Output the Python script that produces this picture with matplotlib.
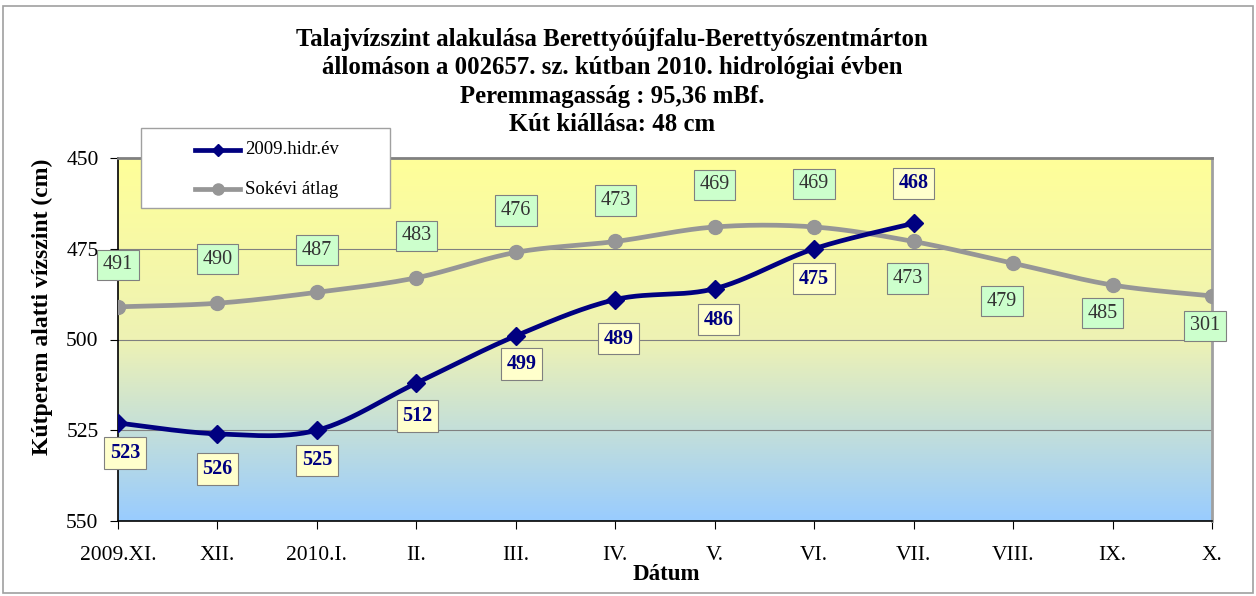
import numpy as np
import matplotlib
matplotlib.use('Agg')
from matplotlib import pyplot as plt
from matplotlib.colors import LinearSegmentedColormap
from matplotlib.patches import Rectangle

months = ['2009.XI.', 'XII.', '2010.I.', 'II.', 'III.', 'IV.', 'V.', 'VI.',
          'VII.', 'VIII.', 'IX.', 'X.']
hidr_2009 = [523, 526, 525, 512, 499, 489, 486, 475, 468]
sokevi = [491, 490, 487, 483, 476, 473, 469, 469, 473, 479, 485, 488]
sokevi_labels = ['491', '490', '487', '483', '476', '473', '469', '469',
                 '473', '479', '485', '301']

# label offsets in pixels (negative = above the point on screen)
hidr_dy = [30, 35, 30, 33, 28, 39, 31, 30, -40]
hidr_dx = [7, 0, 0, 1, 6, 3, 4, 0, 0]
sok_dy = [-42, -44, -42, -42, -42, -41, -42, -43, 37, 38, 28, 30]
sok_dx = [0, 0, 0, 0, 0, 0, 0, 0, -6, -11, -10, -7]

plt.rcParams['font.family'] = ['Liberation Serif', 'DejaVu Serif']


def smooth(y, n=30):
    # bezier smoothing like Excel's smoothed line
    y = np.asarray(y, dtype=float)
    x = np.arange(len(y), dtype=float)
    xs, ys = [], []
    for i in range(len(y) - 1):
        p0 = y[max(i - 1, 0)]
        p1 = y[i]
        p2 = y[i + 1]
        p3 = y[min(i + 2, len(y) - 1)]
        x0 = x[max(i - 1, 0)]
        x3 = x[min(i + 2, len(y) - 1)]
        t = np.linspace(0, 1, n)
        c1y = p1 + (p2 - p0) / 6
        c2y = p2 - (p3 - p1) / 6
        c1x = x[i] + (x[i + 1] - x0) / 6
        c2x = x[i + 1] - (x3 - x[i]) / 6
        bx = (1 - t)**3 * x[i] + 3 * (1 - t)**2 * t * c1x + 3 * (1 - t) * t**2 * c2x + t**3 * x[i + 1]
        by = (1 - t)**3 * p1 + 3 * (1 - t)**2 * t * c1y + 3 * (1 - t) * t**2 * c2y + t**3 * p2
        xs.extend(bx)
        ys.extend(by)
    return np.array(xs), np.array(ys)


W, H = 1256, 596
fig = plt.figure(figsize=(W / 100, H / 100), dpi=100)
fig.patches.append(Rectangle((3 / W, 3 / H), 1250 / W, 587 / H,
                             transform=fig.transFigure, fill=False,
                             edgecolor='#a0a0a0', linewidth=1.2))
ax = fig.add_axes([118 / W, 1 - 521 / H, (1212 - 118) / W, (521 - 158) / H])

# background gradient
cmap = LinearSegmentedColormap.from_list('bg', ['#ffff99', '#eef2b4', '#99ccff'])
grad = np.linspace(0, 1, 256).reshape(-1, 1)
ax.imshow(grad, cmap=cmap, aspect='auto', extent=[0, 11, 550, 450],
          origin='upper', zorder=0)

ax.set_xlim(0, 11)
ax.set_ylim(550, 450)
ax.set_yticks([450, 475, 500, 525, 550])
ax.set_xticks(range(len(months)))
ax.set_xticklabels(months)
for v in [475, 500, 525]:
    ax.axhline(v, color='#808080', linewidth=0.8, zorder=1)

x1 = np.arange(len(hidr_2009))
x2 = np.arange(len(sokevi))
sx, sy = smooth(sokevi)
ax.plot(sx, sy, color='#969696', linewidth=3.4, zorder=3)
ax.plot(x2, sokevi, 'o', color='#969696', markersize=10, zorder=3)
hx, hy = smooth(hidr_2009)
ax.plot(hx, hy, color='#000080', linewidth=3.4, zorder=4)
ax.plot(x1, hidr_2009, 'D', color='#000080', markersize=9, zorder=4)

for i, v in enumerate(sokevi):
    ax.annotate(sokevi_labels[i], (x2[i], v), xytext=(sok_dx[i] * 0.72, -sok_dy[i] * 0.72),
                textcoords='offset points', ha='center', va='center',
                fontsize=14.5, color='#333333', zorder=6,
                bbox=dict(boxstyle='square,pad=0.28', fc='#ccffcc', ec='#808080', lw=0.8))
for i, v in enumerate(hidr_2009):
    ax.annotate(str(v), (x1[i], v), xytext=(hidr_dx[i] * 0.72, -hidr_dy[i] * 0.72),
                textcoords='offset points', ha='center', va='center',
                fontsize=14.5, color='#000080', fontweight='bold', zorder=6,
                bbox=dict(boxstyle='square,pad=0.28', fc='#ffffcc', ec='#808080', lw=0.8))

for s in ['left', 'bottom']:
    ax.spines[s].set_color('black')
    ax.spines[s].set_linewidth(1.2)
ax.spines['top'].set_color('#808080')
ax.spines['top'].set_linewidth(2)
ax.spines['right'].set_color('#a0a0a0')
ax.spines['right'].set_linewidth(2)
ax.tick_params(axis='both', direction='out', length=6, labelsize=15.5, colors='black')
ax.tick_params(axis='x', pad=12)
ax.tick_params(axis='y', pad=8)

ax.set_ylabel('Kútperem alatti vízszint (cm)', fontsize=17, fontweight='bold')
ax.yaxis.set_label_coords((42 - 118) / (1212 - 118), (521 - 307) / (521 - 158))
ax.set_xlabel('Dátum', fontsize=16.5, fontweight='bold')
ax.xaxis.set_label_coords((666 - 118) / (1212 - 118), -(575 - 521) / (521 - 158))
ax.xaxis.label.set_va('center')
ax.yaxis.label.set_va('center')

title = ('Talajvízszint alakulása Berettyóújfalu-Berettyószentmárton\n'
         'állomáson a 002657. sz. kútban 2010. hidrológiai évben\n'
         'Peremmagasság : 95,36 mBf.\n'
         'Kút kiállása: 48 cm')
fig.text(612 / W, 1 - 82 / H, title, ha='center', va='center', fontsize=17.8,
         fontweight='bold', linespacing=1.3)

# legend drawn by hand
fig.patches.append(Rectangle((141 / W, 1 - 208 / H), 249 / W, 80 / H,
                             transform=fig.transFigure, facecolor='white',
                             edgecolor='#a0a0a0', linewidth=1.0, zorder=5))
leg_items = [('2009.hidr.év', '#000080', 'D', 6, 150),
             ('Sokévi átlag', '#969696', 'o', 8, 189)]
for name, col, mk, ms, yy in leg_items:
    fy = 1 - yy / H
    fig.add_artist(plt.Line2D([195 / W, 240 / W], [fy, fy], color=col, lw=3.4,
                              transform=fig.transFigure, zorder=6))
    fig.add_artist(plt.Line2D([217.5 / W], [fy], color=col, marker=mk, markersize=ms,
                              transform=fig.transFigure, zorder=6))
    fig.text(245 / W, fy, name, ha='left', va='center', fontsize=13.5, zorder=7)

fig.savefig('out.png', dpi=100)
